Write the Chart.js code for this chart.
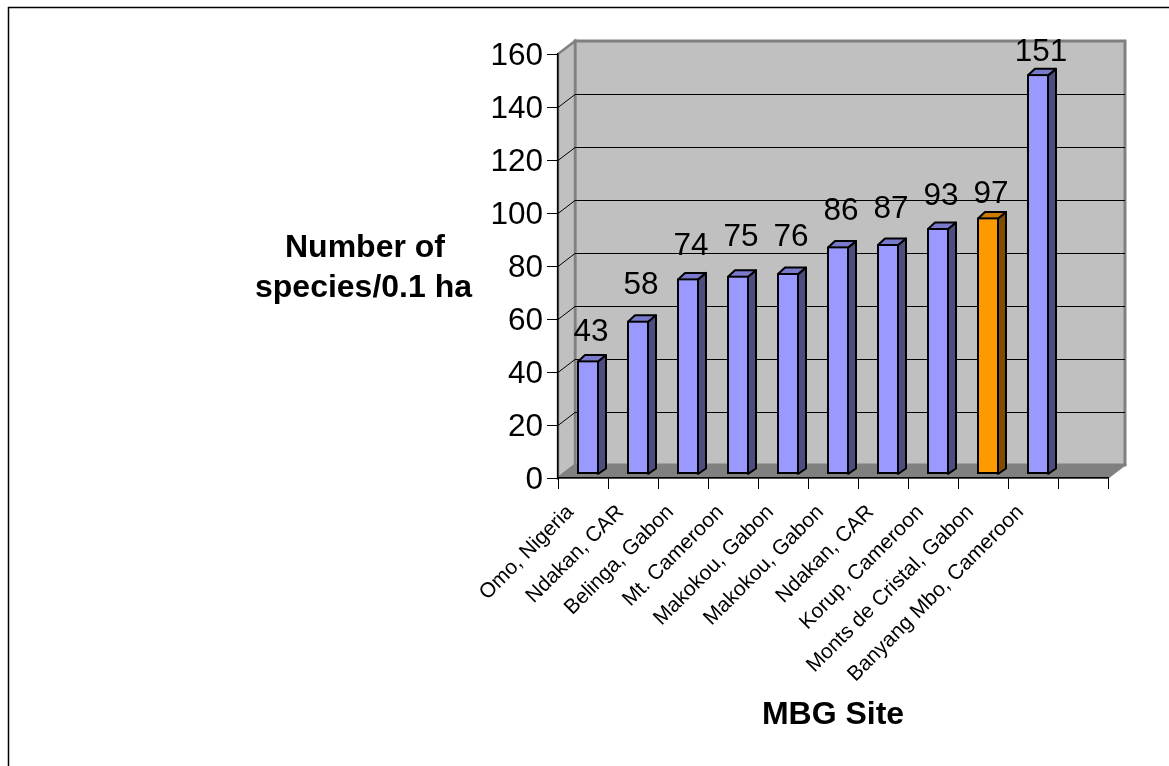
<!DOCTYPE html>
<html lang="en">
<head>
    <meta charset="UTF-8">
    <title>Number of species per 0.1 ha by MBG site</title>
    <script src="https://cdn.jsdelivr.net/npm/chart.js"></script>
    <style>
        html, body { margin: 0; padding: 0; background: #fff; overflow: hidden; }
        canvas { display: block; }
    </style>
</head>
<body>
    <canvas id="myChart" width="1169" height="766"></canvas>

    <script>
        // Sites along the x axis, the last slot stays empty
        const sites = ['Omo, Nigeria', 'Ndakan, CAR', 'Belinga, Gabon', 'Mt. Cameroon', 'Makokou, Gabon',
            'Makokou, Gabon', 'Ndakan, CAR', 'Korup, Cameroon', 'Monts de Cristal, Gabon', 'Banyang Mbo, Cameroon', ''];
        const speciesCounts = [43, 58, 74, 75, 76, 86, 87, 93, 97, 151, null];
        const highlightedSite = 'Monts de Cristal, Gabon';

        // Height of each value label above the top of its bar
        const labelLift = [30, 37, 34, 40, 37, 37, 36, 33, 25, 24, 0];

        const FONT = '"Liberation Sans", Arial, sans-serif';
        const BLUE = { front: '#9999FF', side: '#4D4D80', top: '#7A7ACC' };
        const ORANGE = { front: '#FF9900', side: '#804D00', top: '#CC7A00' };

        // Depth of the box behind the axes, and of the bars inside it
        const WALL_DX = 17, WALL_DY = 13;
        const BAR_DX = 7, BAR_DY = 5.5;
        const BAR_SHIFT_X = 5, BAR_SHIFT_Y = -3.5;

        function polygon(ctx, points, fill, stroke, lineWidth) {
            ctx.beginPath();
            points.forEach((p, i) => i ? ctx.lineTo(p[0], p[1]) : ctx.moveTo(p[0], p[1]));
            ctx.closePath();
            if (fill) { ctx.fillStyle = fill; ctx.fill(); }
            if (stroke) { ctx.strokeStyle = stroke; ctx.lineWidth = lineWidth; ctx.stroke(); }
        }

        const colourFor = index => sites[index] === highlightedSite ? ORANGE : BLUE;

        // Page frame, then walls, floor and gridlines of the 3D box
        const boxPlugin = {
            id: 'box',
            beforeDraw(chart) {
                const ctx = chart.ctx;
                const { left, right, top, bottom } = chart.chartArea;
                const yScale = chart.scales.y;
                ctx.save();

                ctx.strokeStyle = '#000';
                ctx.lineWidth = 1.5;
                ctx.beginPath();
                ctx.moveTo(8.5, 766);
                ctx.lineTo(8.5, 7.5);
                ctx.lineTo(1169, 7.5);
                ctx.stroke();

                polygon(ctx, [[left + WALL_DX, top - WALL_DY], [right + WALL_DX, top - WALL_DY],
                    [right + WALL_DX, bottom - WALL_DY], [left + WALL_DX, bottom - WALL_DY]], '#C0C0C0', '#808080', 3);
                polygon(ctx, [[left, top], [left + WALL_DX, top - WALL_DY],
                    [left + WALL_DX, bottom - WALL_DY], [left, bottom]], '#C0C0C0', '#808080', 2.5);
                polygon(ctx, [[left, bottom], [left + WALL_DX, bottom - WALL_DY],
                    [right + WALL_DX, bottom - WALL_DY], [right, bottom]], '#808080', '#808080', 1.5);

                ctx.strokeStyle = '#000';
                ctx.lineWidth = 1;
                yScale.ticks.forEach(tick => {
                    if (tick.value === 0 || tick.value === 160) return;
                    const y = Math.round(yScale.getPixelForValue(tick.value)) + 0.5;
                    ctx.beginPath();
                    ctx.moveTo(left, y);
                    ctx.lineTo(left + WALL_DX, y - WALL_DY);
                    ctx.lineTo(right + WALL_DX, y - WALL_DY);
                    ctx.stroke();
                });
                ctx.restore();
            }
        };

        // Bars sit mid-depth in the box; side and top faces are added behind the front faces
        const barDepthPlugin = {
            id: 'barDepth',
            beforeDatasetDraw(chart, args) {
                const ctx = chart.ctx;
                ctx.save();
                ctx.translate(BAR_SHIFT_X, BAR_SHIFT_Y);
                args.meta.data.forEach((bar, i) => {
                    if (speciesCounts[i] === null) return;
                    const { x, y, base, width } = bar.getProps(['x', 'y', 'base', 'width'], true);
                    const l = x - width / 2, r = x + width / 2;
                    const c = colourFor(i);
                    ctx.lineJoin = 'round';
                    polygon(ctx, [[r - 1, y + 1], [r + BAR_DX, y - BAR_DY], [r + BAR_DX, base - BAR_DY], [r - 1, base]], c.side, '#000', 2);
                    polygon(ctx, [[l + 1, y + 1], [l + BAR_DX + 1, y - BAR_DY], [r + BAR_DX, y - BAR_DY], [r - 1, y + 1]], c.top, '#000', 2);
                });
            },
            afterDatasetDraw(chart) {
                chart.ctx.restore();
            },
            afterDatasetsDraw(chart) {
                const ctx = chart.ctx;
                const bars = chart.getDatasetMeta(0).data;
                ctx.save();
                ctx.fillStyle = '#000';
                ctx.textAlign = 'center';
                ctx.textBaseline = 'middle';
                ctx.font = '31.5px ' + FONT;
                speciesCounts.forEach((count, i) => {
                    if (count === null) return;
                    ctx.fillText(String(count), bars[i].x + BAR_SHIFT_X + 3, bars[i].y - 4 - labelLift[i] + 2);
                });

                // y axis caption reads horizontally, so it is not a scale title
                ctx.font = 'bold 32px ' + FONT;
                ctx.fillText('Number of', 365, 248);
                ctx.fillText('species/0.1 ha', 363.5, 288);
                ctx.restore();
            }
        };

        const ctx = document.getElementById('myChart').getContext('2d');
        const myChart = new Chart(ctx, {
            type: 'bar',
            data: {
                labels: sites,
                datasets: [{
                    label: 'Number of species/0.1 ha',
                    data: speciesCounts,
                    backgroundColor: sites.map((s, i) => colourFor(i).front),
                    borderColor: '#000',
                    borderWidth: 2,
                    borderSkipped: false,
                    categoryPercentage: 1,
                    barPercentage: 0.44
                }]
            },
            options: {
                responsive: false,
                animation: false,
                layout: { padding: { top: 54, right: 61, left: 0, bottom: 0 } },
                plugins: {
                    legend: { display: false },
                    tooltip: { enabled: false }
                },
                scales: {
                    x: {
                        afterFit: scale => { scale.height = 288; },
                        border: { color: '#000', width: 1.5 },
                        grid: { drawOnChartArea: false, color: '#000', tickLength: 11 },
                        ticks: {
                            autoSkip: false,
                            minRotation: 45,
                            maxRotation: 45,
                            padding: 11,
                            labelOffset: -12.5,
                            color: '#000',
                            font: { family: FONT, size: 21 }
                        },
                        title: {
                            display: true,
                            text: 'MBG Site',
                            color: '#000',
                            font: { family: FONT, size: 32, weight: 'bold' },
                            padding: { bottom: 32 }
                        }
                    },
                    y: {
                        min: 0,
                        max: 160,
                        afterFit: scale => { scale.width = 558; },
                        border: { color: '#000', width: 1.5 },
                        grid: { drawOnChartArea: false, color: '#000', tickLength: 11 },
                        ticks: {
                            stepSize: 20,
                            padding: 4,
                            labelOffset: 2,
                            color: '#000',
                            font: { family: FONT, size: 31.5 }
                        }
                    }
                }
            },
            plugins: [boxPlugin, barDepthPlugin]
        });
    </script>
</body>
</html>
